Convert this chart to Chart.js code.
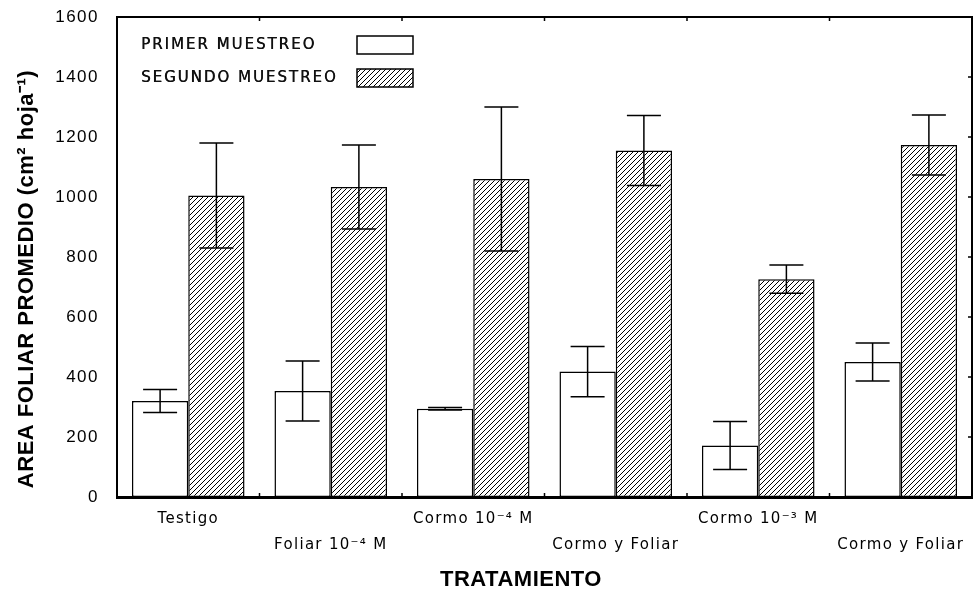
<!DOCTYPE html>
<html>
<head>
<meta charset="utf-8">
<script src="https://cdn.jsdelivr.net/npm/chart.js@4.4.1/dist/chart.umd.min.js"></script>
<style>
    html, body { margin: 0; padding: 0; background: #fff; }
    #wrap { width: 978px; height: 597px; }
</style>
</head>
<body>
<div id="wrap"><canvas id="areaChart"></canvas></div>
<script>
// Data
const categories = ["Testigo", "Foliar 10⁻⁴ M", "Cormo 10⁻⁴ M", "Cormo y Foliar", "Cormo 10⁻³ M", "Cormo y Foliar"];
const primerMuestreo = [320, 353, 294, 418, 172, 450];
const primerError = [38, 100, 4, 84, 80, 63];
const segundoMuestreo = [1005, 1033, 1060, 1155, 726, 1173];
const segundoError = [175, 140, 240, 117, 47, 100];
const yMin = 0, yMax = 1600, yStep = 200;

const canvas = document.getElementById("areaChart");
const ctx = canvas.getContext("2d");

// diagonal hatch for the second sampling
function makeHatch() {
    const n = 5;
    const c = document.createElement("canvas");
    c.width = n; c.height = n;
    const g = c.getContext("2d");
    g.fillStyle = "#fff";
    g.fillRect(0, 0, n, n);
    g.strokeStyle = "#000";
    g.lineWidth = 1;
    g.beginPath();
    g.moveTo(-1, n + 1); g.lineTo(n + 1, -1);
    g.moveTo(-1, 1); g.lineTo(1, -1);
    g.moveTo(n - 1, n + 1); g.lineTo(n + 1, n - 1);
    g.stroke();
    return ctx.createPattern(c, "repeat");
}
const hatch = makeHatch();

// error bars drawn from the y scale
const errorBars = {
    id: "errorBars",
    afterDatasetsDraw(chart) {
        const y = chart.scales.y;
        const c = chart.ctx;
        c.save();
        c.strokeStyle = "#000";
        c.lineWidth = 1.5;
        chart.data.datasets.forEach((ds, d) => {
            chart.getDatasetMeta(d).data.forEach((bar, i) => {
                const top = y.getPixelForValue(ds.data[i] + ds.errors[i]);
                const bot = y.getPixelForValue(ds.data[i] - ds.errors[i]);
                c.beginPath();
                c.moveTo(bar.x, top); c.lineTo(bar.x, bot);
                c.moveTo(bar.x - 17, top); c.lineTo(bar.x + 17, top);
                c.moveTo(bar.x - 17, bot); c.lineTo(bar.x + 17, bot);
                c.stroke();
            });
        });
        c.restore();
    }
};

// frame, inner ticks, category labels, titles and legend
const decorations = {
    id: "decorations",
    beforeDraw(chart) {
        chart.ctx.letterSpacing = "1.5px";
    },
    afterDraw(chart) {
        const c = chart.ctx;
        const a = chart.chartArea;
        const x = chart.scales.x, y = chart.scales.y;
        c.save();
        c.letterSpacing = "0px";
        c.strokeStyle = "#000";
        c.lineWidth = 2;
        c.beginPath();
        c.moveTo(a.left, a.top); c.lineTo(a.right, a.top); c.lineTo(a.right, a.bottom);
        c.stroke();

        c.lineWidth = 1.5;
        c.beginPath();
        y.ticks.forEach(t => {
            const py = y.getPixelForValue(t.value);
            c.moveTo(a.right, py); c.lineTo(a.right - 4, py);
        });
        const w = (a.right - a.left) / categories.length;
        for (let k = 1; k < categories.length; k++) {
            const px = a.left + k * w;
            c.moveTo(px, a.top); c.lineTo(px, a.top + 4);
            c.moveTo(px, a.bottom); c.lineTo(px, a.bottom - 4);
        }
        c.stroke();

        // category labels, staggered
        c.fillStyle = "#000";
        c.font = "15px 'DejaVu Sans'";
        c.letterSpacing = "1.3px";
        c.textAlign = "center";
        c.textBaseline = "middle";
        categories.forEach((lab, i) => {
            c.fillText(lab, x.getPixelForValue(i), i % 2 === 0 ? 519 : 545);
        });

        // axis titles
        c.fillStyle = "#000";
        c.letterSpacing = "0.5px";
        c.font = "bold 22px 'Liberation Sans'";
        c.fillText("TRATAMIENTO", 521, 580);
        c.save();
        c.translate(27, 279);
        c.rotate(-Math.PI / 2);
        c.font = "bold 22px 'Liberation Sans'";
        c.fillText("AREA FOLIAR PROMEDIO (cm² hoja⁻¹)", 0, 0);
        c.restore();

        // legend inside the plot
        c.font = "15px 'DejaVu Sans'";
        c.letterSpacing = "2px";
        c.textAlign = "left";
        c.fillStyle = "#111";
        chart.data.datasets.forEach((ds, d) => {
            const cy = a.top + 28 + d * 33;
            c.fillText(ds.label, a.left + 24, cy);
            c.fillText(ds.label, a.left + 24.4, cy);
            c.fillStyle = ds.backgroundColor;
            c.fillRect(a.left + 240, cy - 9, 56, 18);
            c.lineWidth = 1.5;
            c.strokeRect(a.left + 240, cy - 9, 56, 18);
            c.fillStyle = "#111";
        });
        c.restore();
    }
};

new Chart(ctx, {
    type: "bar",
    data: {
        labels: categories,
        datasets: [
            {
                label: "PRIMER MUESTREO",
                data: primerMuestreo,
                errors: primerError,
                backgroundColor: "#ffffff",
                borderColor: "#000",
                borderWidth: 1.5,
                borderSkipped: false,
                categoryPercentage: 0.79,
                barPercentage: 1.0
            },
            {
                label: "SEGUNDO MUESTREO",
                data: segundoMuestreo,
                errors: segundoError,
                backgroundColor: hatch,
                borderColor: "#000",
                borderWidth: 1.5,
                borderSkipped: false,
                categoryPercentage: 0.79,
                barPercentage: 1.0
            }
        ]
    },
    options: {
        responsive: true,
        maintainAspectRatio: false,
        animation: false,
        layout: { padding: { top: 17, right: 6, left: 0, bottom: 0 } },
        plugins: {
            legend: { display: false },
            tooltip: { enabled: false }
        },
        scales: {
            x: {
                grid: { display: false },
                border: { display: true, color: "#000", width: 3 },
                ticks: { display: false },
                afterFit: s => { s.height = 100; s.paddingLeft = 0; s.paddingRight = 0; }
            },
            y: {
                min: yMin,
                max: yMax,
                grid: { display: false },
                border: { display: true, color: "#000", width: 2 },
                ticks: {
                    stepSize: yStep,
                    color: "#000",
                    padding: 10,
                    font: { family: "Liberation Sans", size: 17 },
                    callback: v => String(v)
                },
                afterFit: s => { s.width = 117; s.paddingTop = 0; s.paddingBottom = 0; }
            }
        }
    },
    plugins: [errorBars, decorations]
});
</script>
</body>
</html>
